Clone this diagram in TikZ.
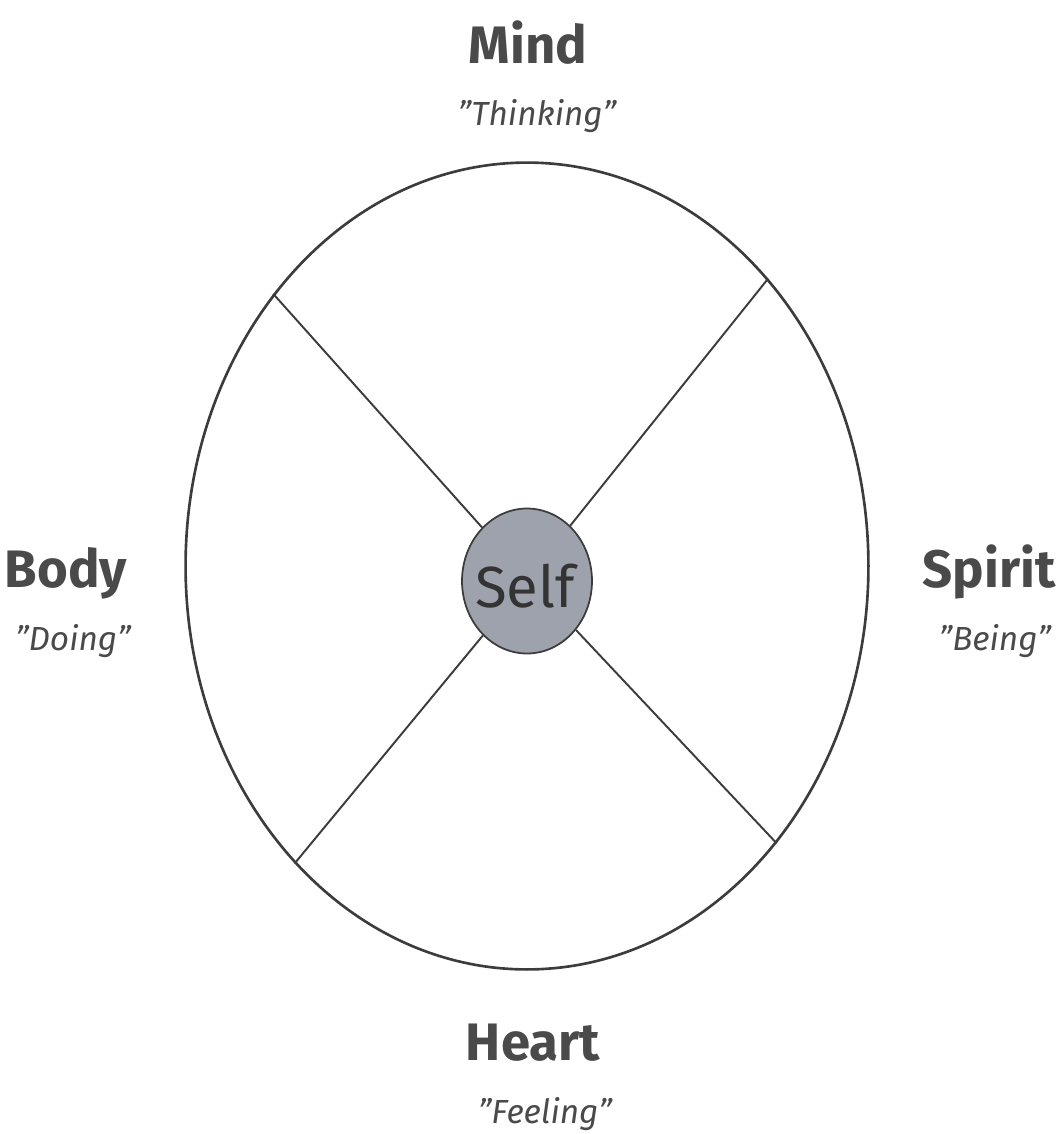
\documentclass[tikz,border=0pt]{standalone}
\usepackage{fontspec}
\setmainfont{Fira Sans}
\usepackage{xcolor}
\usetikzlibrary{shapes.geometric, positioning, calc}

\definecolor{inkgray}{HTML}{4A4A4A}
\definecolor{linegray}{HTML}{3C3C3C}
\definecolor{selffill}{HTML}{9EA2AC}

\begin{document}
\begin{tikzpicture}[
        x=0.02cm, y=-0.02cm,
        wheel/.style={ellipse, draw=linegray, line width=1.5pt, minimum width=13.66cm, minimum height=16.14cm, inner sep=0pt},
        core/.style={ellipse, draw=linegray, line width=1pt, fill=selffill, minimum width=2.6cm, minimum height=2.9cm, inner sep=0pt},
        spoke/.style={draw=linegray, line width=1.1pt},
        title/.style={anchor=base, text=inkgray, font=\fontsize{30}{35}\selectfont\bfseries},
        quote/.style={anchor=base, text=inkgray, font=\fontsize{19}{23}\selectfont\itshape}
    ]
    \useasboundingbox (0,0) rectangle (1060,1134);

    % Outer wheel and centre
    \node[wheel] (wheel) at (527,566) {};
    \node[core] (self) at (527,581) {};
    \node[anchor=base, text=black!80, font=\fontsize{33}{38}\selectfont] (selflabel) at (525,607) {Self};

    % Spokes
    \draw[spoke] (wheel.133) -- (self.130);
    \draw[spoke] (wheel.50) -- (self.52);
    \draw[spoke] (wheel.232) -- (self.231);
    \draw[spoke] (wheel.312) -- (self.315);

    % Labels
    \node[title] (mind) at (528,63) {Mind};
    \node[quote] (thinking) at (537,125) {"Thinking"};
    \node[title] (body) at (66,587) {Body};
    \node[quote] (doing) at (73,650) {"Doing"};
    \node[title] (spirit) at (989,587) {Spirit};
    \node[quote] (being) at (995,650) {"Being"};
    \node[title] (heart) at (533,1060) {Heart};
    \node[quote] (feeling) at (545,1123) {"Feeling"};
\end{tikzpicture}
\end{document}
